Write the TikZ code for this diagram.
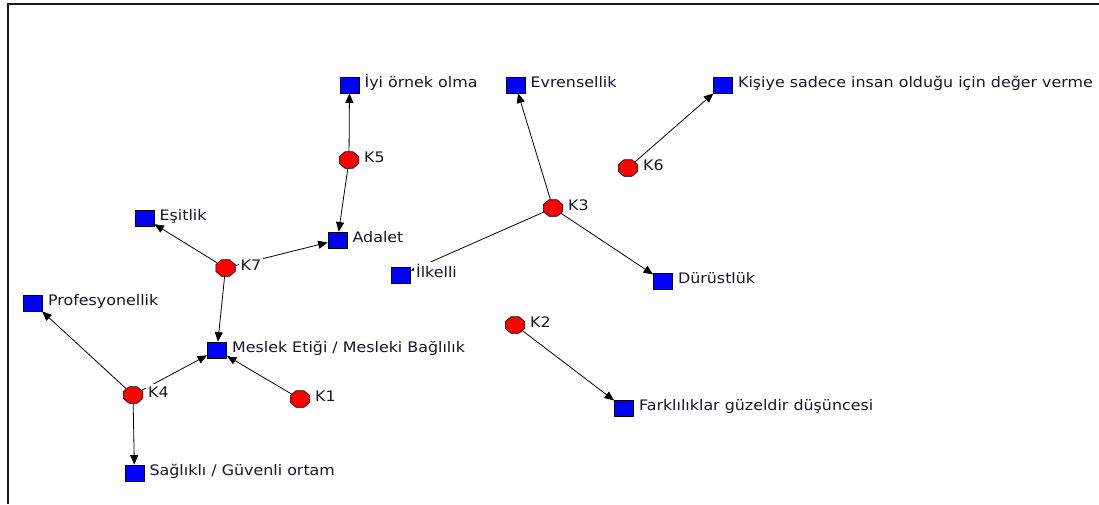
\documentclass[tikz,border=0pt]{standalone}
\usepackage{fontspec}
\setmainfont{DejaVu Sans}[FakeStretch=1.095]
\usetikzlibrary{arrows.meta,shapes.geometric}
\definecolor{txt}{RGB}{25,20,45}
\begin{document}
\begin{tikzpicture}[x=1pt,y=-1pt,
  sq/.style={draw=black,fill=blue,minimum width=19pt,minimum height=16pt,inner sep=0pt,line width=0.8pt},
  ci/.style={draw=black,fill=red,regular polygon,regular polygon sides=8,minimum size=21pt,inner sep=0pt,line width=0.6pt,yscale=0.85,transform shape},
  lab/.style={anchor=base west,fill=white,inner sep=2pt,font=\fontsize{14.5}{17}\selectfont,text=txt},
  edge/.style={line width=0.8pt,-{Triangle[length=9.5pt,width=8pt]}},
]
\useasboundingbox (0,0) rectangle (1099,504);
\draw[line width=1.6pt,black!90] (8,504) -- (8,4) -- (1099,4);

% squares
\node[sq] (iyi) at (349.5,85) {};
\node[sq] (adalet) at (337.5,240) {};
\node[sq] (esit) at (144.5,218) {};
\node[sq] (meslek) at (217,350) {};
\node[sq] (prof) at (33,303) {};
\node[sq] (sag) at (134.5,473) {};
\node[sq] (evren) at (515.5,85) {};
\node[sq] (kisi) at (723,85) {};
\node[sq] (ilk) at (401,275) {};
\node[sq] (duru) at (663,281) {};
\node[sq] (fark) at (624,408) {};
% circles
\node[ci] (k5) at (349,160) {};
\node[ci] (k7) at (225.5,268) {};
\node[ci] (k4) at (133,395) {};
\node[ci] (k1) at (300,399) {};
\node[ci] (k3) at (553,208) {};
\node[ci] (k6) at (628,168) {};
\node[ci] (k2) at (515,325) {};

% edges
\draw[edge] (k5) -- (iyi);
\draw[edge] (k5) -- (adalet);
\draw[edge] (k7) -- (esit);
\draw[edge] (k7) -- (adalet);
\draw[edge] (k7) -- (meslek);
\draw[edge] (k4) -- (prof);
\draw[edge] (k4) -- (meslek);
\draw[edge] (k4) -- (sag);
\draw[edge] (k1) -- (meslek);
\draw[edge] (k3) -- (evren);
\draw[edge] (k3) -- (ilk);
\draw[edge] (k3) -- (duru);
\draw[edge] (k6) -- (kisi);
\draw[edge] (k2) -- (fark);

% labels
\node[lab] (l-iyi) at ([xshift=3pt,yshift=-2pt]iyi.east) {İyi örnek olma};
\node[lab] (l-adalet) at ([xshift=3pt,yshift=-2pt]adalet.east) {Adalet};
\node[lab] (l-esit) at ([xshift=3pt,yshift=-2pt]esit.east) {Eşitlik};
\node[lab] (l-meslek) at ([xshift=3pt,yshift=-2pt]meslek.east) {Meslek Etiği / Mesleki Bağlılık};
\node[lab] (l-prof) at ([xshift=3pt,yshift=-2pt]prof.east) {Profesyonellik};
\node[lab] (l-sag) at ([xshift=3pt,yshift=-2pt]sag.east) {Sağlıklı / Güvenli ortam};
\node[lab] (l-evren) at ([xshift=3pt,yshift=-2pt]evren.east) {Evrensellik};
\node[lab] (l-kisi) at ([xshift=3pt,yshift=-2pt]kisi.east) {Kişiye sadece insan olduğu için değer verme};
\node[lab] (l-ilk) at ([xshift=3pt,yshift=-2pt]ilk.east) {İlkelli};
\node[lab] (l-duru) at ([xshift=3pt,yshift=-2pt]duru.east) {Dürüstlük};
\node[lab] (l-fark) at ([xshift=3pt,yshift=-2pt]fark.east) {Farklılıklar güzeldir düşüncesi};
\node[lab] (l-k5) at ([xshift=3pt,yshift=-2pt]k5.east) {K5};
\node[lab] (l-k7) at ([xshift=3pt,yshift=-2pt]k7.east) {K7};
\node[lab] (l-k4) at ([xshift=3pt,yshift=-2pt]k4.east) {K4};
\node[lab] (l-k1) at ([xshift=3pt,yshift=-2pt]k1.east) {K1};
\node[lab] (l-k3) at ([xshift=3pt,yshift=-2pt]k3.east) {K3};
\node[lab] (l-k6) at ([xshift=3pt,yshift=-2pt]k6.east) {K6};
\node[lab] (l-k2) at ([xshift=3pt,yshift=-2pt]k2.east) {K2};
\end{tikzpicture}
\end{document}
